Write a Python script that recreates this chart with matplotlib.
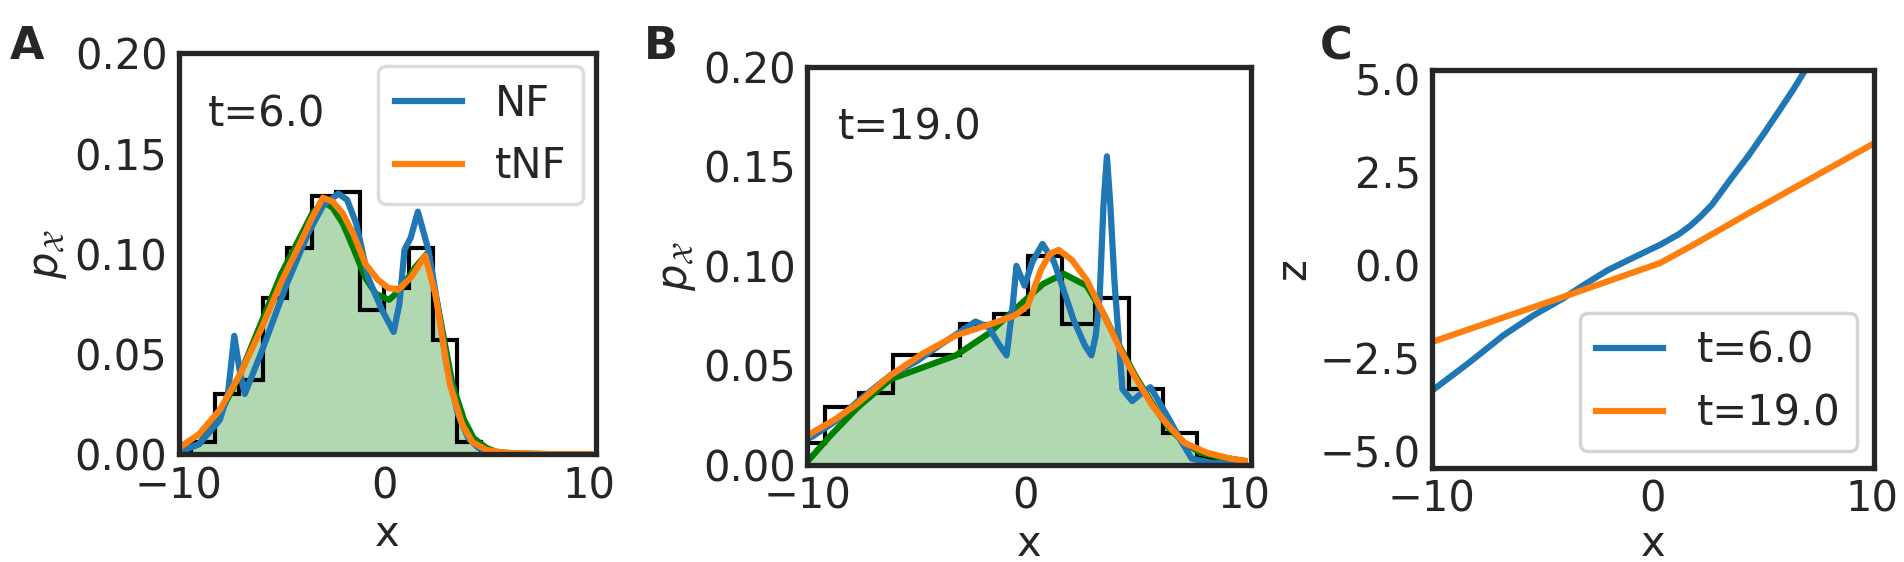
import numpy as np
import matplotlib.pyplot as plt

# ---------------------------
# data
# ---------------------------
# panel A, t=6.0
hist_a_edges = [-9.42, -8.24, -7.06, -5.88, -4.70, -3.52, -2.34, -1.16, 0.02, 1.20, 2.38, 3.56, 4.74]
hist_a_heights = [0.006, 0.030, 0.037, 0.078, 0.103, 0.129, 0.131, 0.072, 0.083, 0.103, 0.057, 0.006]

true_a_x = [-10, -9, -8, -7, -6, -5, -4, -3.5, -2.97, -2.5, -2, -1.5, -0.91, -0.4, 0.24, 0.8, 1.5, 2.09, 2.6, 3.33, 3.9, 4.36, 5.0, 5.5, 6.5, 8, 10]
true_a_y = [0.001, 0.005, 0.02, 0.04, 0.065, 0.09, 0.11, 0.12, 0.126, 0.123, 0.115, 0.103, 0.088, 0.080, 0.077, 0.082, 0.093, 0.100, 0.075, 0.035, 0.017, 0.008, 0.003, 0.001, 0.0003, 0.0, 0.0]

nf_a_x = [-10, -9, -8, -7.6, -7.29, -7.0, -6.78, -6.0, -4.73, -3.7, -2.97, -2.23, -1.8, -1.35, -0.77, -0.1, 0.47, 0.75, 1.0, 1.3, 1.65, 2.16, 2.6, 3.04, 3.6, 4.1, 4.6, 5.2, 6, 10]
nf_a_y = [0.001, 0.005, 0.017, 0.03, 0.059, 0.04, 0.030, 0.05, 0.085, 0.110, 0.124, 0.130, 0.127, 0.115, 0.088, 0.072, 0.061, 0.075, 0.102, 0.108, 0.121, 0.102, 0.075, 0.045, 0.020, 0.008, 0.003, 0.001, 0.0, 0.0]

tnf_a_x = [-10, -9, -8, -7, -6, -5, -4, -3.5, -2.97, -2.5, -2, -1.5, -0.91, -0.3, 0.2, 0.68, 1.3, 2.0, 2.5, 3.2, 3.8, 4.3, 5.0, 6, 8, 10]
tnf_a_y = [0.003, 0.01, 0.022, 0.04, 0.062, 0.086, 0.107, 0.118, 0.128, 0.126, 0.120, 0.110, 0.095, 0.087, 0.083, 0.082, 0.088, 0.099, 0.080, 0.035, 0.015, 0.006, 0.002, 0.0005, 0.0, 0.0]

# panel B, t=19.0
hist_b_edges = [-10.725, -9.18, -7.635, -6.09, -4.545, -3.0, -1.455, 0.09, 1.635, 3.18, 4.725, 6.27, 7.815, 9.36]
hist_b_heights = [0.011, 0.029, 0.036, 0.055, 0.055, 0.071, 0.076, 0.105, 0.071, 0.084, 0.038, 0.016, 0.0035]

true_b_x = [-10, -9, -7.68, -6.19, -4.7, -3.2, -1.7, -0.21, 0.8, 1.73, 2.78, 3.5, 4.27, 5.0, 5.77, 6.5, 7.26, 8.0, 8.76, 10]
true_b_y = [0.0015, 0.014, 0.029, 0.043, 0.049, 0.055, 0.066, 0.081, 0.091, 0.096, 0.090, 0.077, 0.060, 0.045, 0.031, 0.019, 0.011, 0.006, 0.004, 0.002]

nf_b_x = [-10, -9.8, -8.7, -7.68, -6.19, -5.0, -3.95, -2.3, -1.7, -1.2, -0.88, -0.6, -0.43, -0.06, 0.3, 0.76, 1.29, 2.18, 2.7, 3.0, 3.2, 3.38, 3.55, 3.71, 3.87, 4.05, 4.42, 4.87, 5.3, 5.7, 6.5, 7.1, 7.6, 8.5, 10]
nf_b_y = [0.013, 0.014, 0.022, 0.032, 0.045, 0.052, 0.060, 0.072, 0.069, 0.060, 0.055, 0.080, 0.100, 0.090, 0.102, 0.111, 0.102, 0.073, 0.060, 0.055, 0.065, 0.085, 0.130, 0.155, 0.130, 0.093, 0.038, 0.032, 0.036, 0.039, 0.024, 0.012, 0.003, 0.001, 0.0]

tnf_b_x = [-10, -9.8, -8.7, -7.68, -6.19, -4.7, -3.2, -1.8, -0.51, 0.09, 0.69, 1.1, 1.51, 2.1, 2.78, 3.5, 4.27, 5.0, 5.77, 6.5, 7.26, 8.3, 9.4, 10]
tnf_b_y = [0.014, 0.016, 0.023, 0.031, 0.045, 0.056, 0.065, 0.070, 0.075, 0.080, 0.098, 0.106, 0.108, 0.103, 0.093, 0.077, 0.059, 0.044, 0.030, 0.020, 0.011, 0.006, 0.003, 0.002]

# panel C, z(x)
z6_x = [-10, -8.3, -6.75, -5.4, -4.04, -3.0, -2.01, -0.8, 0.36, 1.2, 1.71, 2.2, 2.72, 3.5, 4.42, 5.1, 5.77, 6.4, 6.95, 7.5]
z6_y = [-3.38, -2.62, -1.89, -1.36, -0.90, -0.50, -0.14, 0.21, 0.54, 0.82, 1.04, 1.30, 1.62, 2.25, 2.97, 3.55, 4.14, 4.70, 5.23, 5.8]
z19_x = [-10, -4.04, 0.36, 1.88, 4.42, 10]
z19_y = [-2.07, -0.86, 0.05, 0.54, 1.40, 3.24]

blue = "#1f77b4"
orange = "#ff7f0e"
spine_col = "#262626"
fs = 30
lw = 4.5

plt.rcParams["font.family"] = ["DejaVu Sans"]
plt.rcParams["font.size"] = fs
plt.rcParams["text.color"] = spine_col
plt.rcParams["axes.labelcolor"] = spine_col
plt.rcParams["xtick.color"] = spine_col
plt.rcParams["ytick.color"] = spine_col

fig = plt.figure(figsize=(19.04, 5.62), dpi=100)
ax_a = fig.add_axes([0.0938, 0.192, 0.219, 0.713])
ax_b = fig.add_axes([0.424, 0.173, 0.233, 0.708])
ax_c = fig.add_axes([0.752, 0.168, 0.232, 0.708])


def style(ax):
    for s in ax.spines.values():
        s.set_linewidth(3.8)
        s.set_color(spine_col)
    ax.tick_params(length=0, labelsize=fs, pad=8)


def density_panel(ax, edges, heights, tx, ty, nx, ny, ox, oy, label):
    ax.fill_between(tx, ty, color="green", alpha=0.3, lw=0)
    ax.plot(tx, ty, color="green", lw=lw)
    ax.stairs(heights, edges, color="black", lw=3)
    ax.plot(nx, ny, color=blue, lw=lw, label="NF")
    ax.plot(ox, oy, color=orange, lw=lw, label="tNF")
    ax.set_xlim(-10, 10.3)
    ax.set_ylim(0, 0.2)
    ax.set_xticks([-10, 0, 10])
    ax.set_yticks([0, 0.05, 0.10, 0.15, 0.20])
    ax.set_yticklabels(["0.00", "0.05", "0.10", "0.15", "0.20"])
    ax.set_xlabel("x", fontsize=fs)
    ax.set_ylabel(r"$p_\mathcal{X}$", fontsize=fs)
    ax.text(0.07, 0.9, label, transform=ax.transAxes, fontsize=fs, va="top")
    style(ax)


density_panel(ax_a, hist_a_edges, hist_a_heights, true_a_x, true_a_y,
              nf_a_x, nf_a_y, tnf_a_x, tnf_a_y, "t=6.0")
leg = ax_a.legend(loc="upper right", fontsize=fs, handlelength=1.6,
                  borderaxespad=0.3, framealpha=0.8)
leg.get_frame().set_linewidth(2.5)
leg.get_frame().set_edgecolor("#d4d4d4")

density_panel(ax_b, hist_b_edges, hist_b_heights, true_b_x, true_b_y,
              nf_b_x, nf_b_y, tnf_b_x, tnf_b_y, "t=19.0")

ax_c.plot(z6_x, z6_y, color=blue, lw=lw, label="t=6.0")
ax_c.plot(z19_x, z19_y, color=orange, lw=lw, label="t=19.0")
ax_c.set_xlim(-10, 10.05)
ax_c.set_ylim(-5.44, 5.24)
ax_c.set_xticks([-10, 0, 10])
ax_c.set_yticks([-5, -2.5, 0, 2.5, 5])
ax_c.set_yticklabels(["\u22125.0", "\u22122.5", "0.0", "2.5", "5.0"])
ax_c.set_xlabel("x", fontsize=fs, labelpad=2)
ax_c.set_ylabel("z", fontsize=fs)
leg = ax_c.legend(loc="lower right", fontsize=fs, handlelength=1.6,
                  borderaxespad=0.4, framealpha=1)
leg.get_frame().set_linewidth(2.5)
leg.get_frame().set_edgecolor("#d4d4d4")
style(ax_c)

for lab, xpos in [("A", 0.005), ("B", 0.338), ("C", 0.693)]:
    fig.text(xpos, 0.955, lab, fontsize=32, fontweight="bold", va="top")

fig.savefig("out.png", dpi=100)
